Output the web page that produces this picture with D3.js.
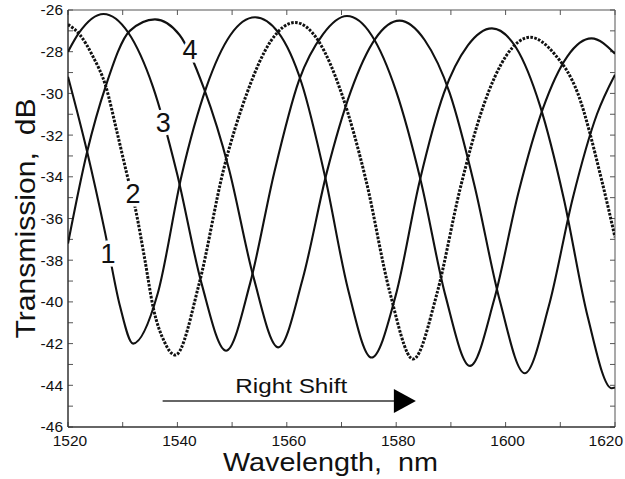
<!DOCTYPE html>
<html lang="en">
<head>
  <meta charset="UTF-8">
  <title>Transmission vs Wavelength</title>
  <script src="https://cdn.jsdelivr.net/npm/d3@7/dist/d3.min.js"></script>
  <style>
    body { margin: 0; background: #fff; }
    svg { display: block; font-family: "Liberation Sans", Arial, sans-serif; }
    .tick-label { font-size: 15.5px; fill: #111; }
    .curve { fill: none; stroke: #111; stroke-width: 2.1; stroke-linejoin: round; }
    .curve.dotted { stroke-width: 3; stroke-dasharray: 2.6 1.4; }
    .num { font-size: 27px; fill: #111; stroke: #fff; stroke-width: 7; paint-order: stroke; }
    .title { white-space: pre; fill: #111; }
  </style>
</head>
<body>
  <div id="chart"></div>
  <script>
    // curve 1 (solid)
    const wl1 = [1520, 1523.5, 1526.8, 1529.5, 1531.9, 1536.4, 1540.8, 1545.3, 1549.7, 1554.2,
                 1558.5, 1562.7, 1567.0, 1571.2, 1575.5, 1579.9, 1584.3, 1588.7, 1593.1, 1597.5,
                 1601.9, 1606.3, 1610.6, 1615.0, 1619.4, 1620];
    const db1 = [-29.2, -32.8, -36.7, -40.2, -42.0, -39.6, -33.9, -29.7, -27.2, -26.35,
                 -27.1, -29.5, -34.0, -39.4, -42.67, -39.7, -34.2, -30.0, -27.7, -26.88,
                 -27.8, -30.6, -35.0, -40.7, -44.14, -44.1];
    // curve 2 (dotted)
    const wl2 = [1520, 1522.2, 1524.5, 1526.9, 1529.0, 1530.7, 1532.3, 1534.0, 1535.6, 1537.6,
                 1539.6, 1544.0, 1548.4, 1552.7, 1557.1, 1561.5, 1565.8, 1570.1, 1574.5, 1578.8,
                 1583.1, 1587.4, 1591.7, 1595.9, 1600.2, 1604.5, 1608.9, 1613.2, 1617.6, 1620];
    const db2 = [-26.7, -27.2, -28.2, -29.65, -31.9, -33.8, -35.5, -37.9, -40.3, -41.9,
                 -42.55, -39.1, -33.7, -30.0, -27.48, -26.6, -27.49, -30.07, -34.19, -39.5,
                 -42.74, -39.65, -34.56, -30.63, -28.16, -27.31, -28.1, -30.0, -34.2, -36.9];
    // curve 3 (solid)
    const wl3 = [1520, 1522.0, 1526.5, 1531.0, 1535.5, 1539.9, 1544.4, 1548.9, 1553.3, 1557.7,
                 1562.2, 1566.6, 1571.0, 1575.5, 1580.0, 1584.5, 1589.0, 1593.5, 1597.9, 1602.4,
                 1606.8, 1611.3, 1615.7, 1620];
    const db3 = [-28.0, -27.1, -26.19, -27.08, -29.66, -33.8, -39.1, -42.34, -39.1, -33.8,
                 -29.4, -27.17, -26.29, -27.21, -29.9, -34.2, -39.7, -43.07, -39.9, -34.7,
                 -30.74, -28.22, -27.36, -28.1];
    // curve 4 (solid)
    const wl4 = [1520, 1523.5, 1526.9, 1531.3, 1535.9, 1540.4, 1544.9, 1549.4, 1553.9, 1558.45,
                 1562.9, 1567.3, 1571.7, 1576.2, 1580.6, 1585.2, 1589.8, 1594.3, 1598.9, 1603.5,
                 1607.9, 1612.3, 1616.7, 1620];
    const db4 = [-37.2, -32.8, -29.65, -27.0, -26.45, -27.2, -29.8, -33.6, -38.8, -42.18,
                 -38.9, -33.8, -29.9, -27.37, -26.51, -27.44, -30.0, -34.4, -39.9, -43.42,
                 -40.2, -35.0, -31.0, -29.1];

    const curveNames = ["1", "2", "3", "4"];
    const labelWl = [1527.3, 1531.9, 1537.4, 1542.3];
    const labelDb = [-37.65, -34.8, -31.4, -27.9];

    const xTicks = [1520, 1540, 1560, 1580, 1600, 1620];
    const yTicks = [-26, -28, -30, -32, -34, -36, -38, -40, -42, -44, -46];

    const arrowFrom = [1537.3, -44.75];
    const arrowTo = [1583.6, -44.75];
    const arrowText = "Right Shift";

    const W = 625, H = 479;
    const margin = { top: 10, right: 10, bottom: 52, left: 68 };

    const svg = d3.select("#chart").append("svg")
      .attr("width", W).attr("height", H);

    const x = d3.scaleLinear().domain([1520, 1620]).range([margin.left, W - margin.right]);
    const y = d3.scaleLinear().domain([-46, -26]).range([H - margin.bottom, margin.top]);

    svg.append("clipPath").attr("id", "plot")
      .append("rect")
      .attr("x", x(1520)).attr("y", y(-26))
      .attr("width", x(1620) - x(1520)).attr("height", y(-46) - y(-26));

    // frame: top/right light grey, left/bottom dark
    svg.append("line").attr("x1", x(1520)).attr("x2", x(1620)).attr("y1", y(-26)).attr("y2", y(-26))
      .attr("stroke", "#8c8c8c").attr("stroke-width", 1.5);
    svg.append("line").attr("x1", x(1620)).attr("x2", x(1620)).attr("y1", y(-26)).attr("y2", y(-46))
      .attr("stroke", "#8c8c8c").attr("stroke-width", 1.5);

    // inward ticks, minor every 10 nm / 1 dB
    const xAll = d3.range(1520, 1621, 10);
    const yAll = d3.range(-46, -25, 1);
    const tk = svg.append("g").attr("stroke", "#555").attr("stroke-width", 1);
    xAll.forEach(v => {
      tk.append("line").attr("x1", x(v)).attr("x2", x(v)).attr("y1", y(-46)).attr("y2", y(-46) - 5);
      tk.append("line").attr("x1", x(v)).attr("x2", x(v)).attr("y1", y(-26)).attr("y2", y(-26) + 5);
    });
    yAll.forEach(v => {
      tk.append("line").attr("x1", x(1520)).attr("x2", x(1520) + 5).attr("y1", y(v)).attr("y2", y(v));
      tk.append("line").attr("x1", x(1620)).attr("x2", x(1620) - 5).attr("y1", y(v)).attr("y2", y(v));
    });

    svg.append("line").attr("x1", x(1520)).attr("x2", x(1520)).attr("y1", y(-26)).attr("y2", y(-46))
      .attr("stroke", "#333").attr("stroke-width", 1.5);
    svg.append("line").attr("x1", x(1520)).attr("x2", x(1620)).attr("y1", y(-46)).attr("y2", y(-46))
      .attr("stroke", "#333").attr("stroke-width", 1.5);

    // last x label sits flush with the right edge, as in the original
    svg.append("g").selectAll("text").data(xTicks).join("text")
      .attr("class", "tick-label")
      .attr("x", d => d === 1620 ? W - 2 : x(d) + 2)
      .attr("y", y(-46) + 19)
      .attr("text-anchor", d => d === 1620 ? "end" : "middle")
      .text(d => d);

    svg.append("g").selectAll("text").data(yTicks).join("text")
      .attr("class", "tick-label")
      .attr("x", x(1520) - 5).attr("y", d => y(d))
      .attr("dy", "0.35em")
      .attr("text-anchor", "end")
      .text(d => d);

    // curves
    const line = d3.line()
      .x(d => x(d[0])).y(d => y(d[1]))
      .curve(d3.curveMonotoneX);

    const series = [
      { wl: wl1, db: db1, dotted: false },
      { wl: wl2, db: db2, dotted: true },
      { wl: wl3, db: db3, dotted: false },
      { wl: wl4, db: db4, dotted: false }
    ];

    const g = svg.append("g").attr("clip-path", "url(#plot)");
    series.forEach(s => {
      g.append("path")
        .datum(s.wl.map((w, i) => [w, s.db[i]]))
        .attr("class", s.dotted ? "curve dotted" : "curve")
        .attr("d", line);
    });

    // curve numbers (white halo cuts the line like the original)
    svg.append("g").selectAll("text").data(curveNames).join("text")
      .attr("class", "num")
      .attr("x", (d, i) => x(labelWl[i]))
      .attr("y", (d, i) => y(labelDb[i]))
      .attr("dy", "0.36em")
      .attr("text-anchor", "middle")
      .text(d => d);

    // right shift arrow
    const ax0 = x(arrowFrom[0]), ax1 = x(arrowTo[0]), ay = y(arrowFrom[1]);
    svg.append("line")
      .attr("x1", ax0).attr("x2", ax1 - 20).attr("y1", ay).attr("y2", ay)
      .attr("stroke", "#333").attr("stroke-width", 1.6);
    svg.append("path")
      .attr("d", `M${ax1},${ay} L${ax1 - 22},${ay - 12} L${ax1 - 22},${ay + 12} Z`)
      .attr("fill", "#000");
    svg.append("text")
      .attr("x", (ax0 + ax1) / 2 + 2).attr("y", ay - 8)
      .attr("text-anchor", "middle")
      .attr("font-size", 20)
      .attr("textLength", 112).attr("lengthAdjust", "spacingAndGlyphs")
      .attr("fill", "#111")
      .text(arrowText);

    // axis titles
    svg.append("text")
      .attr("class", "title")
      .attr("x", (x(1520) + x(1620)) / 2 - 11).attr("y", H - 8)
      .attr("text-anchor", "middle")
      .attr("font-size", 25)
      .attr("textLength", 215).attr("lengthAdjust", "spacingAndGlyphs")
      .text("Wavelength,  nm");

    svg.append("text")
      .attr("class", "title")
      .attr("transform", `translate(35,${(y(-26) + y(-46)) / 2}) rotate(-90)`)
      .attr("text-anchor", "middle")
      .attr("font-size", 28)
      .attr("textLength", 240).attr("lengthAdjust", "spacingAndGlyphs")
      .text("Transmission,  dB");
  </script>
</body>
</html>
